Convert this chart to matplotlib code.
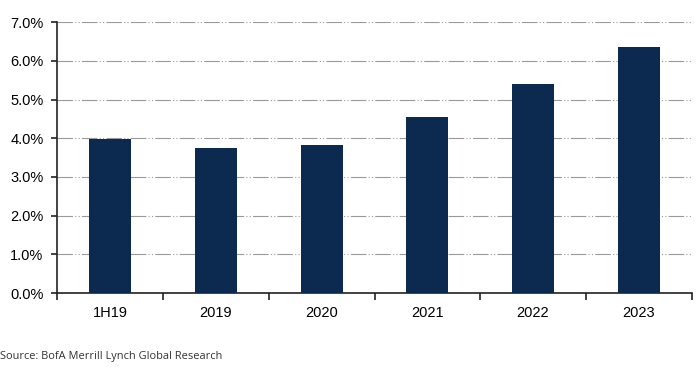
import matplotlib
matplotlib.use("Agg")
import matplotlib.pyplot as plt
from matplotlib.ticker import PercentFormatter
import numpy as np

# data
categories = ['1H19', '2019', '2020', '2021', '2022', '2023']
values = [3.98, 3.75, 3.83, 4.55, 5.40, 6.36]

bar_color = '#0c2a50'

plt.rcParams['font.family'] = ['Liberation Sans', 'DejaVu Sans']

fig = plt.figure(figsize=(7, 3.7), dpi=100)
ax = fig.add_axes([0.082, 0.208, 0.906, 0.732])

x = np.arange(len(categories))
ax.bar(x, values, width=0.4, color=bar_color, zorder=3)

ax.set_xlim(-0.5, len(categories) - 0.5)
ax.set_ylim(0, 7)
ax.set_yticks(np.arange(0, 8, 1))
ax.yaxis.set_major_formatter(PercentFormatter(decimals=1))

# dash-dot-dot gridlines
ax.grid(axis='y', color='#9a9a9a', linewidth=0.8, linestyle=(0, (14, 2, 1, 2, 1, 2)), zorder=1)

ax.set_xticks(x)
ax.set_xticklabels(categories)
ax.set_xticks(np.arange(-0.5, len(categories), 1), minor=True)
ax.tick_params(axis='x', which='major', length=0, pad=9, labelsize=10.5)
ax.tick_params(axis='x', which='minor', length=5, width=1.2, direction='out', color='#222222')
ax.tick_params(axis='y', length=4, width=1.2, direction='out', labelsize=10.5, pad=6, color='#222222')

for s in ['top', 'right']:
    ax.spines[s].set_visible(False)
for s in ['left', 'bottom']:
    ax.spines[s].set_color('#222222')
    ax.spines[s].set_linewidth(1.2)

fig.text(0.0, 0.03, 'Source: BofA Merrill Lynch Global Research', fontsize=7.9,
         family=['Open Sans', 'DejaVu Sans'], color='#333333')

fig.savefig('out.png', dpi=100)
